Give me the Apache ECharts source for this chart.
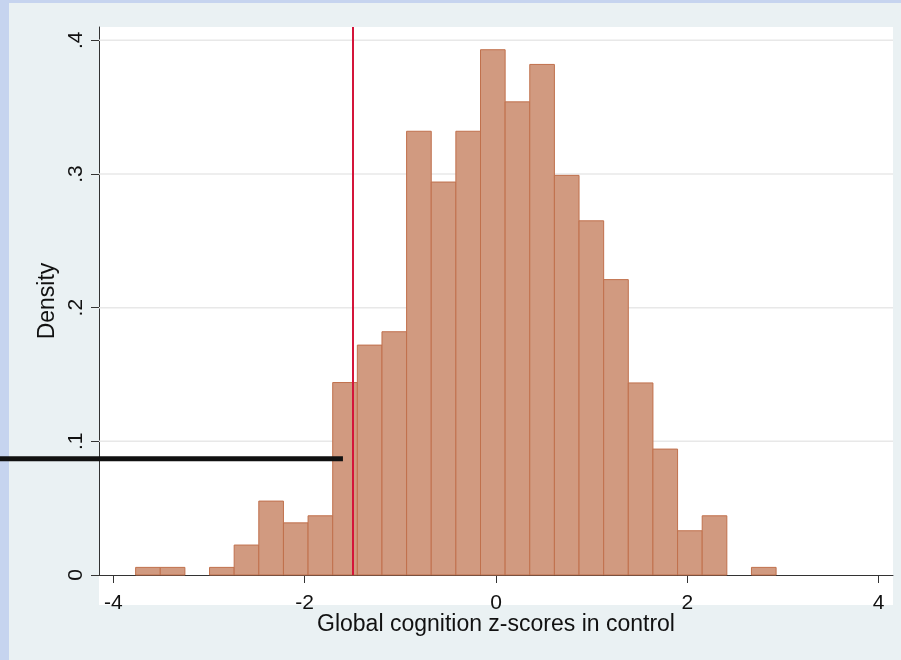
<!DOCTYPE html>
<html>
<head>
<meta charset="utf-8">
<script src="https://cdn.jsdelivr.net/npm/echarts@6/dist/echarts.min.js"></script>
<style>
  html, body { margin: 0; padding: 0; background: #c6d4ef; }
  #chart { width: 901px; height: 660px; }
</style>
</head>
<body>
<div id="chart"></div>
<script>
// Histogram of global cognition z-scores (density scale)
const binStart = -3.767;
const binWidth = 0.2575;
const densities = [
  0.0057, 0.0057, 0, 0.0057, 0.0224, 0.0553, 0.039, 0.0443,
  0.144, 0.172, 0.182, 0.332, 0.294, 0.332, 0.393, 0.354,
  0.382, 0.299, 0.265, 0.221, 0.1437, 0.0942, 0.0331, 0.0443,
  0, 0.0057
];

// Cut-off marker and pointer annotation
const cutoff = -1.5;
const pointer = [-5.2, 0.087, -1.6, 0.087];

// Axis ticks
const xTickValues = [-4, -2, 0, 2, 4];
const xTickLabels = ['-4', '-2', '0', '2', '4'];
const yTickValues = [0, 0.1, 0.2, 0.3, 0.4];
const yTickLabels = ['0', '.1', '.2', '.3', '.4'];
const yGridValues = [0.1, 0.2, 0.3, 0.4];

const xRange = [-4.15, 4.15];
const yRange = [0, 0.41];

const FONT = '"Liberation Sans", Arial, sans-serif';

const bins = densities.map((d, i) => [binStart + i * binWidth, binStart + (i + 1) * binWidth, d]);
const gridRows = yGridValues.map(v => [xRange[0], v, xRange[1], v]);

const chart = echarts.init(document.getElementById('chart'), null, { renderer: 'canvas' });

chart.setOption({
  animation: false,
  backgroundColor: '#c6d4ef',
  textStyle: { fontFamily: FONT },
  graphic: [
    { type: 'rect', z: -20, shape: { x: 9, y: 3, width: 892, height: 657 }, style: { fill: '#eaf1f3' } },
    { type: 'rect', z: -10, shape: { x: 99, y: 27, width: 794, height: 578 }, style: { fill: '#ffffff' } }
  ],
  grid: { left: 99, right: 8, top: 27, bottom: 85, containLabel: false, outerBoundsMode: 'none' },
  xAxis: {
    type: 'value',
    min: xRange[0],
    max: xRange[1],
    name: 'Global cognition z-scores in control',
    nameLocation: 'middle',
    nameGap: 38,
    nameMoveOverlap: false,
    nameTextStyle: { color: '#111', fontSize: 23, fontFamily: FONT },
    axisLine: { show: true, onZero: false, lineStyle: { color: '#333', width: 1 } },
    axisTick: { show: true, length: 8, lineStyle: { color: '#333' }, customValues: xTickValues },
    axisLabel: {
      color: '#111', fontSize: 21, fontFamily: FONT, margin: 18,
      customValues: xTickValues,
      formatter: v => xTickLabels[xTickValues.indexOf(v)]
    },
    splitLine: { show: false }
  },
  yAxis: {
    type: 'value',
    min: yRange[0],
    max: yRange[1],
    name: 'Density',
    nameLocation: 'middle',
    nameGap: 40,
    nameMoveOverlap: false,
    nameTextStyle: { color: '#111', fontSize: 23, fontFamily: FONT },
    axisLine: { show: true, onZero: false, lineStyle: { color: '#333', width: 1 } },
    axisTick: { show: true, length: 8, lineStyle: { color: '#333' }, customValues: yTickValues },
    axisLabel: {
      color: '#111', fontSize: 21, fontFamily: FONT, margin: 12, rotate: 90,
      customValues: yTickValues,
      formatter: v => yTickLabels[yTickValues.indexOf(v)]
    },
    splitLine: { show: false }
  },
  series: [
    {
      // light horizontal gridlines behind the bars
      type: 'custom',
      z: 1,
      silent: true,
      data: gridRows,
      encode: { x: [0, 2], y: [1, 3] },
      renderItem: (params, api) => {
        const a = api.coord([api.value(0), api.value(1)]);
        const b = api.coord([api.value(2), api.value(3)]);
        return {
          type: 'line',
          shape: { x1: a[0], y1: a[1], x2: b[0], y2: b[1] },
          style: { stroke: '#e8e8e8', lineWidth: 1.5 }
        };
      }
    },
    {
      type: 'custom',
      z: 2,
      data: bins,
      encode: { x: [0, 1], y: 2 },
      renderItem: (params, api) => {
        const d = api.value(2);
        if (!d) return null;
        const p0 = api.coord([api.value(0), d]);
        const p1 = api.coord([api.value(1), 0]);
        return {
          type: 'rect',
          shape: { x: p0[0], y: p0[1], width: p1[0] - p0[0], height: p1[1] - p0[1] },
          style: { fill: '#d19a80', stroke: '#c0704c', lineWidth: 1 }
        };
      }
    },
    {
      // vertical cut-off line
      type: 'line', data: [], z: 5, silent: true,
      markLine: {
        silent: true, symbol: 'none', label: { show: false },
        lineStyle: { color: '#d4153a', width: 2, type: 'solid' },
        data: [{ xAxis: cutoff }]
      }
    },
    {
      // pointer annotation
      type: 'custom',
      z: 6,
      clip: false,
      data: [pointer],
      encode: { x: [0, 2], y: [1, 3] },
      renderItem: (params, api) => {
        const a = api.coord([api.value(0), api.value(1)]);
        const b = api.coord([api.value(2), api.value(3)]);
        return {
          type: 'line',
          shape: { x1: a[0], y1: a[1], x2: b[0], y2: b[1] },
          style: { stroke: '#111', lineWidth: 5 }
        };
      }
    }
  ]
});
</script>
</body>
</html>
